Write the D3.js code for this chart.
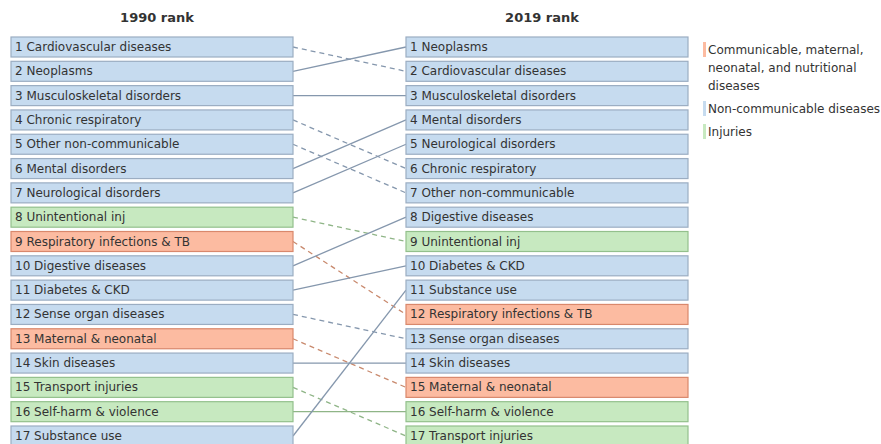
<!DOCTYPE html>
<html>
<head>
<meta charset="utf-8">
<script src="https://cdn.jsdelivr.net/npm/d3@7"></script>
<style>
  body { margin: 0; background: #fff; }
  svg text { font-family: "DejaVu Sans", Verdana, sans-serif; }
</style>
</head>
<body>
<div id="chart"></div>
<script>
// causes, their group and ranks in both years
const causes = [
  "Cardiovascular diseases", "Neoplasms", "Musculoskeletal disorders", "Chronic respiratory",
  "Other non-communicable", "Mental disorders", "Neurological disorders", "Unintentional inj",
  "Respiratory infections & TB", "Digestive diseases", "Diabetes & CKD", "Sense organ diseases",
  "Maternal & neonatal", "Skin diseases", "Transport injuries", "Self-harm & violence", "Substance use"
];
const groups = ["ncd", "ncd", "ncd", "ncd", "ncd", "ncd", "ncd", "inj",
  "cmnn", "ncd", "ncd", "ncd", "cmnn", "ncd", "inj", "inj", "ncd"];
const rank1990 = [1, 2, 3, 4, 5, 6, 7, 8, 9, 10, 11, 12, 13, 14, 15, 16, 17];
const rank2019 = [2, 1, 3, 6, 7, 4, 5, 9, 12, 8, 10, 13, 15, 14, 17, 16, 11];

const legendKeys = ["cmnn", "ncd", "inj"];
const legendLabels = [
  ["Communicable, maternal,", "neonatal, and nutritional", "diseases"],
  ["Non-communicable diseases"],
  ["Injuries"]
];
const headers = ["1990 rank", "2019 rank"];

const fillColor = { cmnn: "#fcbba1", ncd: "#c6dbef", inj: "#c7e9c0" };
const strokeColor = { cmnn: "#d9886c", ncd: "#9badc2", inj: "#93c08c" };
const lineColor = { cmnn: "#c98a6e", ncd: "#8597ad", inj: "#8fb587" };

const width = 881, height = 444;
const svg = d3.select("#chart").append("svg")
  .attr("width", width)
  .attr("height", height);

const boxW = 282, boxH = 20;
const colX = [11, 406];
const headerX = [157, 542];

const y = d3.scaleLinear().domain([1, 17]).range([37, 426]);

const rows = causes.map((c, i) => ({
  name: c, group: groups[i], r0: rank1990[i], r1: rank2019[i]
}));

// headers
svg.selectAll("text.header")
  .data(headers)
  .enter().append("text")
  .attr("class", "header")
  .attr("x", (d, i) => headerX[i])
  .attr("y", 22)
  .attr("text-anchor", "middle")
  .attr("font-size", 13)
  .attr("font-weight", "bold")
  .attr("fill", "#333")
  .text(d => d);

// connecting lines, dashed when the rank drops
svg.selectAll("line.link")
  .data(rows)
  .enter().append("line")
  .attr("class", "link")
  .attr("x1", colX[0] + boxW)
  .attr("y1", d => y(d.r0) + boxH / 2)
  .attr("x2", colX[1])
  .attr("y2", d => y(d.r1) + boxH / 2)
  .attr("stroke", d => lineColor[d.group])
  .attr("stroke-width", 1.3)
  .attr("stroke-dasharray", d => d.r1 > d.r0 ? "5,4" : null);

// boxes for both years
[0, 1].forEach(k => {
  const g = svg.selectAll("g.col" + k)
    .data(rows)
    .enter().append("g")
    .attr("transform", d => `translate(${colX[k]},${y(k === 0 ? d.r0 : d.r1)})`);
  g.append("rect")
    .attr("width", boxW)
    .attr("height", boxH)
    .attr("fill", d => fillColor[d.group])
    .attr("stroke", d => strokeColor[d.group])
    .attr("stroke-width", 1.2);
  g.append("text")
    .attr("x", 4)
    .attr("y", boxH / 2 + 4)
    .attr("font-size", 12)
    .attr("fill", "#333")
    .text(d => (k === 0 ? d.r0 : d.r1) + " " + d.name);
});

// legend
let ly = 42;
legendKeys.forEach((key, i) => {
  const lines = legendLabels[i];
  svg.append("rect")
    .attr("x", 703)
    .attr("y", ly)
    .attr("width", 3)
    .attr("height", 15)
    .attr("fill", fillColor[key]);
  lines.forEach((t, j) => {
    svg.append("text")
      .attr("x", 708)
      .attr("y", ly + 12 + j * 18)
      .attr("font-size", 12)
      .attr("fill", "#333")
      .text(t);
  });
  ly += lines.length * 18 + 5;
});
</script>
</body>
</html>
